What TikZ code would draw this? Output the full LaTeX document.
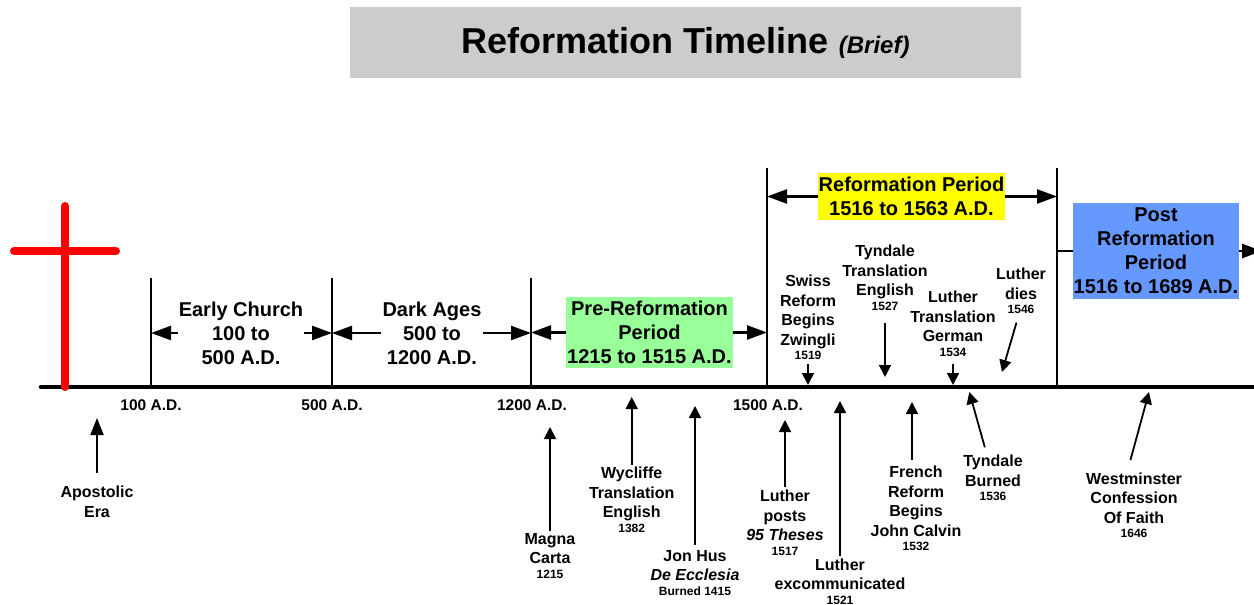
\documentclass[tikz,border=0pt]{standalone}
\usepackage{fontspec}
\setmainfont{Liberation Sans}
\usetikzlibrary{arrows.meta}

\definecolor{titlegray}{HTML}{CCCCCC}
\definecolor{pregreen}{HTML}{99FF99}
\definecolor{reformyellow}{HTML}{FFFF00}
\definecolor{postblue}{HTML}{6699FF}
\definecolor{crossred}{HTML}{FF0000}

\newcommand{\yr}[1]{{\fontsize{12}{14}\selectfont #1}}

\begin{document}
\begin{tikzpicture}[x=1pt, y=-1pt,
  period/.style={font=\fontsize{20}{24}\selectfont\bfseries, align=center, inner sep=1pt},
  event/.style={font=\fontsize{16}{19.5}\selectfont\bfseries, align=center, inner sep=0pt},
  datelbl/.style={font=\fontsize{15.5}{18}\selectfont\bfseries, inner sep=0pt},
  periodarrow/.style={-{Triangle[length=20pt,width=14pt]}, line width=2.5pt},
  eventarrow/.style={-{Triangle[length=12pt,width=12pt]}, line width=1.8pt},
  tickline/.style={line width=2.2pt}]
  % \draw[gray, very thin, step=50] (0,0) grid (1254,605);
  \useasboundingbox (0,0) rectangle (1254,605);

  \node[name=title, fill=titlegray, minimum width=671pt, minimum height=71pt, inner sep=0pt,
    font=\fontsize{36}{40}\selectfont\bfseries] at (685.5,42.5)
    {Reformation Timeline {\fontsize{24}{28}\selectfont\itshape (Brief)}};

  \coordinate (t100) at (151,387);
  \coordinate (t500) at (332,387);
  \coordinate (t1200) at (531,387);
  \coordinate (t1500) at (767,387);
  \coordinate (tpost) at (1057,387);

  \draw[line width=4.5pt, line cap=round] (41,387) -- (1256,387);
  \draw[tickline] (151,278) -- (t100);
  \draw[tickline] (332,278) -- (t500);
  \draw[tickline] (531,278) -- (t1200);
  \draw[tickline] (767,168) -- (t1500);
  \draw[tickline] (1057,168) -- (tpost);

  \draw[crossred, line width=8pt, line cap=round] (65,206) -- (65,387);
  \draw[crossred, line width=8pt, line cap=round] (14,251) -- (116,251);

  % periods
  \node[period, name=early] at (241,333) {Early Church\\100 to\\500 A.D.};
  \node[period, name=dark] at (432,333) {Dark Ages\\500 to\\1200 A.D.};
  \node[period, name=preref, fill=pregreen, minimum width=167pt, minimum height=71pt, inner sep=0pt]
    at (649.5,332.5) {Pre-Reformation\\Period\\1215 to 1515 A.D.};
  \node[period, name=reform, fill=reformyellow, minimum width=187pt, minimum height=47pt, inner sep=0pt]
    at (911.5,196.5) {Reformation Period\\1516 to 1563 A.D.};
  \node[period, name=postref, fill=postblue, minimum width=166pt, minimum height=96pt, inner sep=0pt]
    at (1156,251) {Post\\Reformation\\Period\\1516 to 1689 A.D.};
  \coordinate (postend) at (1262,251);

  \draw[periodarrow] (early) -- (early -| t100);
  \draw[periodarrow] (early) -- (early -| t500);
  \draw[periodarrow] (dark) -- (dark -| t500);
  \draw[periodarrow] (dark) -- (dark -| t1200);
  \draw[periodarrow] (preref) -- (preref -| t1200);
  \draw[periodarrow] (preref) -- (preref -| t1500);
  \draw[periodarrow] (reform) -- (reform -| t1500);
  \draw[periodarrow] (reform) -- (reform -| tpost);
  \draw[tickline] (postref -| tpost) -- (postref);
  \draw[periodarrow] (postref) -- (postend);

  % dates
  \node[datelbl, name=d100] at (151,405) {100 A.D.};
  \node[datelbl, name=d500] at (332,405) {500 A.D.};
  \node[datelbl, name=d1200] at (532,405) {1200 A.D.};
  \node[datelbl, name=d1500] at (768,405) {1500 A.D.};

  % events above the line
  \node[event, name=swiss, anchor=south] at (808,360) {Swiss\\Reform\\Begins\\Zwingli\\[-5pt]\yr{1519}};
  \node[event, name=tyntrans, anchor=south] at (885,310.7) {Tyndale\\Translation\\English\\[-5pt]\yr{1527}};
  \node[event, name=luttrans, anchor=south] at (953,356.7) {Luther\\Translation\\German\\[-5pt]\yr{1534}};
  \node[event, name=lutdies, anchor=south] at (1021,314) {Luther\\dies\\[-5pt]\yr{1546}};
  \coordinate (swisstip) at (808,385);
  \coordinate (tyntip) at (885,377);
  \coordinate (luttip) at (953,385);
  \coordinate (diestip) at (1002,372);
  \draw[eventarrow, shorten <=4pt] (swiss) -- (swisstip);
  \draw[eventarrow, shorten <=12pt] (tyntrans) -- (tyntip);
  \draw[eventarrow, shorten <=7pt] (luttrans) -- (luttip);
  \draw[eventarrow, shorten <=9pt] ([xshift=-2pt]lutdies.south) -- (diestip);

  % events below the line
  \node[event, name=apost, anchor=north] at (97,486) {Apostolic\\Era};
  \node[event, name=magna, anchor=north] at (550,533) {Magna\\Carta\\[-5pt]\yr{1215}};
  \node[event, name=wycliffe, anchor=north] at (631.7,467) {Wycliffe\\Translation\\English\\[-5pt]\yr{1382}};
  \node[event, name=jonhus, anchor=north] at (695,550) {Jon Hus\\\textit{De Ecclesia}\\[-5pt]\yr{Burned 1415}};
  \node[event, name=lutposts, anchor=north] at (785,490) {Luther\\posts\\\textit{95 Theses}\\[-5pt]\yr{1517}};
  \node[event, name=lutexcom, anchor=north] at (840,558.3) {Luther\\excommunicated\\[-5pt]\yr{1521}};
  \node[event, name=french, anchor=north] at (916,466) {French\\Reform\\Begins\\John Calvin\\[-5pt]\yr{1532}};
  \node[event, name=tynburn, anchor=north] at (993,455) {Tyndale\\Burned\\[-5pt]\yr{1536}};
  \node[event, name=westmin, anchor=north] at (1134,472.7) {Westminster\\Confession\\Of Faith\\[-5pt]\yr{1646}};
  \coordinate (aposttip) at (97,418);
  \coordinate (magnatip) at (550,427);
  \coordinate (wyctip) at (631.7,397);
  \coordinate (hustip) at (695,406);
  \coordinate (poststip) at (785,420);
  \coordinate (excomtip) at (840,401);
  \coordinate (frenchtip) at (912,402);
  \coordinate (burntip) at (969.3,392);
  \coordinate (westtip) at (1149,392);
  \draw[-{Triangle[length=17pt,width=13pt]}, line width=1.8pt, shorten <=13pt] (apost) -- (aposttip);
  \draw[eventarrow, shorten <=2pt] (magna) -- (magnatip);
  \draw[eventarrow, shorten <=2pt] (wycliffe) -- (wyctip);
  \draw[eventarrow, shorten <=5pt] (jonhus) -- (hustip);
  \draw[eventarrow, shorten <=3pt] (lutposts) -- (poststip);
  \draw[eventarrow, shorten <=2pt] (lutexcom) -- (excomtip);
  \draw[eventarrow, shorten <=6pt] (french.north -| frenchtip) -- (frenchtip);
  \draw[eventarrow, shorten <=8pt] ([xshift=-6pt]tynburn.north) -- (burntip);
  \draw[eventarrow, shorten <=13pt] ([xshift=-7pt]westmin.north) -- (westtip);
\end{tikzpicture}
\end{document}
